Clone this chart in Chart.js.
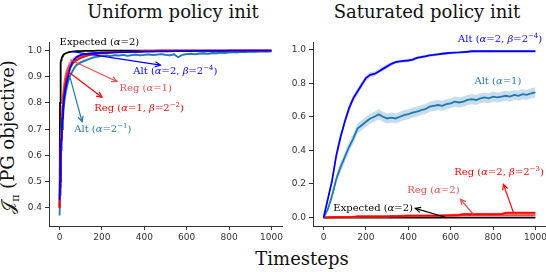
<!DOCTYPE html>
<html>
<head>
<meta charset="utf-8">
<script src="https://cdn.jsdelivr.net/npm/chart.js@4.4.1/dist/chart.umd.min.js"></script>
<style>
  body { margin: 0; width: 546px; height: 272px; overflow: hidden; background: #fff; position: relative; font-family: 'DejaVu Serif', serif; }
  canvas { position: absolute; top: 0; }
  .lbl { position: absolute; font-size: 18px; line-height: 18px; color: #111; white-space: nowrap; transform: translateX(-50%); }
  #ylab { position: absolute; left: 12px; top: 137px; font-size: 18px; line-height: 18px; color: #111; white-space: nowrap; transform: translate(-50%, -50%) rotate(-90deg); }
</style>
</head>
<body>
<div class="lbl" style="left:173px; top:3px;">Uniform policy init</div>
<div class="lbl" style="left:427px; top:3px;">Saturated policy init</div>
<div class="lbl" style="left:302px; top:250px;">Timesteps</div>
<div id="ylab">𝒥<sub style="font-size:11px">π</sub> (PG objective)</div>
<canvas id="left" width="300" height="272" style="left:0"></canvas>
<canvas id="right" width="290" height="272" style="left:270px"></canvas>
<script>
// ---- data ----
const X_TICKS = [0, 200, 400, 600, 800, 1000];
const Y_TICKS_LEFT = [0.4, 0.5, 0.6, 0.7, 0.8, 0.9, 1.0];
const Y_TICKS_RIGHT = [0.0, 0.2, 0.4, 0.6, 0.8, 1.0];

// uniform init panel
const T_LEFT = [0, 2, 4, 6, 8, 10, 13, 16, 20, 25, 30, 40, 50, 60, 70, 80, 100, 120, 140, 160, 180,
  200, 220, 240, 260, 280, 300, 320, 340, 360, 380, 400, 420, 440, 460, 480, 500, 520, 540, 560, 580,
  600, 620, 640, 660, 680, 700, 720, 740, 760, 780, 800, 820, 840, 860, 880, 900, 920, 940, 960, 980, 1000];
const EXP_L = [0.40, 0.80, 0.93, 0.955, 0.965, 0.972, 0.978, 0.982, 0.985, 0.988, 0.990, 0.993, 0.995, 0.996, 0.997, 0.998, 0.998, 0.999, 0.999, 0.999, 1.0,
  1.0, 1.0, 1.0, 1.0, 1.0, 1.0, 1.0, 1.0, 1.0, 1.0, 1.0, 1.0, 1.0, 1.0, 1.0, 1.0, 1.0, 1.0, 1.0, 1.0,
  1.0, 1.0, 1.0, 1.0, 1.0, 1.0, 1.0, 1.0, 1.0, 1.0, 1.0, 1.0, 1.0, 1.0, 1.0, 1.0, 1.0, 1.0, 1.0, 1.0, 1.0];
const ALT_B4_L = [0.43, 0.50, 0.58, 0.63, 0.66, 0.69, 0.74, 0.77, 0.81, 0.84, 0.865, 0.90, 0.935, 0.955, 0.968, 0.976, 0.984, 0.987, 0.989, 0.990, 0.991,
  0.992, 0.992, 0.993, 0.993, 0.994, 0.994, 0.994, 0.995, 0.995, 0.995, 0.996, 0.996, 0.996, 0.997, 0.997, 0.997, 0.997, 0.998, 0.998, 0.998,
  0.998, 0.998, 0.999, 0.999, 0.999, 0.999, 0.999, 0.999, 0.999, 0.999, 1.0, 1.0, 1.0, 1.0, 1.0, 1.0, 1.0, 1.0, 1.0, 1.0, 1.0];
const ALT_H_L = [0.37, 0.45, 0.52, 0.58, 0.62, 0.66, 0.70, 0.74, 0.78, 0.82, 0.845, 0.88, 0.905, 0.92, 0.935, 0.945, 0.955, 0.962, 0.968, 0.974, 0.977,
  0.980, 0.982, 0.979, 0.983, 0.981, 0.984, 0.980, 0.983, 0.985, 0.982, 0.984, 0.986, 0.983, 0.985, 0.987, 0.984, 0.982, 0.986, 0.975, 0.984,
  0.987, 0.988, 0.986, 0.989, 0.990, 0.988, 0.991, 0.990, 0.992, 0.991, 0.993, 0.994, 0.993, 0.995, 0.994, 0.996, 0.995, 0.996, 0.997, 0.996, 0.997];
const ALT_H_L_ERR = [0.01, 0.02, 0.02, 0.02, 0.02, 0.02, 0.02, 0.02, 0.015, 0.015, 0.012, 0.01, 0.01, 0.008, 0.008, 0.007, 0.006, 0.006, 0.005, 0.005, 0.005,
  0.004, 0.004, 0.004, 0.004, 0.004, 0.004, 0.004, 0.004, 0.004, 0.004, 0.004, 0.004, 0.004, 0.004, 0.004, 0.004, 0.004, 0.004, 0.004, 0.004,
  0.004, 0.004, 0.004, 0.004, 0.004, 0.004, 0.004, 0.004, 0.004, 0.004, 0.004, 0.004, 0.004, 0.004, 0.004, 0.004, 0.004, 0.004, 0.004, 0.004, 0.004];
const REG_A1_L = [0.40, 0.50, 0.58, 0.65, 0.70, 0.74, 0.79, 0.83, 0.86, 0.89, 0.91, 0.935, 0.95, 0.96, 0.965, 0.97, 0.978, 0.983, 0.987, 0.99, 0.991,
  0.992, 0.993, 0.993, 0.994, 0.994, 0.995, 0.995, 0.996, 0.996, 0.997, 0.998, 0.998, 0.999, 0.999, 1.0, 1.0, 1.0, 1.0, 1.0, 1.0,
  1.0, 1.0, 1.0, 1.0, 1.0, 1.0, 1.0, 1.0, 1.0, 1.0, 1.0, 1.0, 1.0, 1.0, 1.0, 1.0, 1.0, 1.0, 1.0, 1.0, 1.0];
const REG_A1_L_ERR = [0.01, 0.03, 0.03, 0.03, 0.03, 0.03, 0.03, 0.025, 0.025, 0.02, 0.02, 0.018, 0.015, 0.013, 0.012, 0.01, 0.008, 0.006, 0.005, 0.004, 0.004,
  0.003, 0.003, 0.003, 0.003, 0.003, 0.003, 0.003, 0.003, 0.003, 0.003, 0.002, 0.002, 0.002, 0.002, 0.002, 0.002, 0.002, 0.002, 0.002, 0.002,
  0.001, 0.001, 0.001, 0.001, 0.001, 0.001, 0.001, 0.001, 0.001, 0.001, 0.001, 0.001, 0.001, 0.001, 0.001, 0.001, 0.001, 0.001, 0.001, 0.001, 0.001];
const REG_B2_L = [0.40, 0.48, 0.55, 0.61, 0.66, 0.70, 0.75, 0.79, 0.83, 0.86, 0.885, 0.915, 0.935, 0.948, 0.957, 0.963, 0.972, 0.978, 0.983, 0.986, 0.988,
  0.990, 0.991, 0.992, 0.993, 0.993, 0.994, 0.995, 0.995, 0.996, 0.996, 0.997, 0.998, 0.999, 1.0, 1.0, 1.0, 1.0, 1.0, 1.0, 1.0,
  1.0, 1.0, 1.0, 1.0, 1.0, 1.0, 1.0, 1.0, 1.0, 1.0, 1.0, 1.0, 1.0, 1.0, 1.0, 1.0, 1.0, 1.0, 1.0, 1.0, 1.0];

// saturated init panel
const T_RIGHT = [0, 20, 40, 60, 80, 100, 120, 140, 160, 180, 200, 220, 240, 260, 280, 300, 320, 340, 360, 380, 400,
  420, 440, 460, 480, 500, 520, 540, 560, 580, 600, 620, 640, 660, 680, 700, 720, 740, 760, 780, 800,
  820, 840, 860, 880, 900, 920, 940, 960, 980, 1000];
const ALT_B4_R = [0, 0.11, 0.22, 0.37, 0.48, 0.57, 0.65, 0.71, 0.75, 0.79, 0.83, 0.85, 0.855, 0.87, 0.885, 0.90, 0.915, 0.925, 0.93, 0.933, 0.935,
  0.94, 0.95, 0.955, 0.96, 0.965, 0.968, 0.972, 0.975, 0.978, 0.98, 0.982, 0.983, 0.985, 0.987, 0.99, 0.99, 0.99, 0.99, 0.99, 0.99,
  0.99, 0.99, 0.99, 0.99, 0.99, 0.99, 0.99, 0.99, 0.99, 0.99];
const ALT_B4_R_ERR = [0, 0.01, 0.015, 0.02, 0.02, 0.02, 0.02, 0.02, 0.02, 0.018, 0.016, 0.015, 0.014, 0.013, 0.012, 0.012, 0.011, 0.01, 0.01, 0.01, 0.01,
  0.009, 0.009, 0.009, 0.009, 0.009, 0.008, 0.008, 0.008, 0.008, 0.008, 0.007, 0.007, 0.007, 0.007, 0.007, 0.006, 0.006, 0.006, 0.006, 0.006,
  0.005, 0.005, 0.005, 0.005, 0.005, 0.005, 0.005, 0.005, 0.005, 0.005];
const ALT_1_R = [0.0, 0.05, 0.13, 0.23, 0.30, 0.36, 0.42, 0.47, 0.53, 0.55, 0.57, 0.59, 0.60, 0.615, 0.60, 0.59, 0.595, 0.59, 0.60, 0.61, 0.615,
  0.625, 0.63, 0.64, 0.645, 0.66, 0.665, 0.67, 0.665, 0.675, 0.68, 0.69, 0.685, 0.69, 0.70, 0.705, 0.70, 0.71, 0.715, 0.71, 0.72,
  0.715, 0.72, 0.725, 0.72, 0.73, 0.725, 0.735, 0.73, 0.74, 0.745];
const ALT_1_R_ERR = [0, 0.01, 0.02, 0.025, 0.03, 0.03, 0.03, 0.03, 0.03, 0.03, 0.03, 0.03, 0.03, 0.03, 0.03, 0.03, 0.03, 0.03, 0.03, 0.03, 0.03,
  0.03, 0.03, 0.03, 0.03, 0.03, 0.03, 0.03, 0.03, 0.03, 0.03, 0.03, 0.03, 0.03, 0.03, 0.03, 0.03, 0.03, 0.03, 0.03, 0.03,
  0.03, 0.03, 0.03, 0.03, 0.03, 0.03, 0.03, 0.03, 0.03, 0.03];
const REG_A2_R = [0, 0.001, 0.002, 0.002, 0.002, 0.002, 0.002, 0.003, 0.005, 0.006, 0.006, 0.006, 0.006, 0.006, 0.006, 0.006, 0.007, 0.007, 0.007, 0.008, 0.01,
  0.01, 0.01, 0.01, 0.01, 0.01, 0.01, 0.01, 0.01, 0.01, 0.01, 0.011, 0.012, 0.013, 0.013, 0.013, 0.013, 0.013, 0.013, 0.013, 0.013,
  0.014, 0.014, 0.014, 0.014, 0.014, 0.014, 0.014, 0.014, 0.014, 0.014];
const REG_A2_R_ERR = [0, 0.003, 0.004, 0.004, 0.004, 0.004, 0.004, 0.004, 0.004, 0.004, 0.004, 0.004, 0.004, 0.004, 0.004, 0.004, 0.004, 0.004, 0.004, 0.004, 0.004,
  0.004, 0.004, 0.004, 0.004, 0.004, 0.004, 0.004, 0.004, 0.004, 0.004, 0.004, 0.004, 0.004, 0.004, 0.004, 0.004, 0.004, 0.004, 0.004, 0.004,
  0.004, 0.004, 0.004, 0.004, 0.004, 0.004, 0.004, 0.004, 0.004, 0.004];
const REG_B3_R = [0, 0.001, 0.002, 0.003, 0.003, 0.003, 0.003, 0.004, 0.007, 0.007, 0.007, 0.007, 0.007, 0.007, 0.007, 0.007, 0.008, 0.008, 0.009, 0.01, 0.012,
  0.012, 0.012, 0.012, 0.012, 0.012, 0.012, 0.012, 0.013, 0.013, 0.014, 0.015, 0.016, 0.02, 0.02, 0.02, 0.02, 0.02, 0.02, 0.02, 0.02,
  0.02, 0.021, 0.028, 0.028, 0.028, 0.028, 0.028, 0.028, 0.028, 0.028];
const REG_B3_R_ERR = [0, 0.004, 0.005, 0.006, 0.006, 0.006, 0.006, 0.006, 0.007, 0.007, 0.007, 0.007, 0.007, 0.007, 0.007, 0.007, 0.008, 0.008, 0.008, 0.008, 0.008,
  0.008, 0.008, 0.008, 0.008, 0.008, 0.008, 0.008, 0.008, 0.008, 0.008, 0.009, 0.009, 0.009, 0.009, 0.009, 0.009, 0.009, 0.009, 0.009, 0.009,
  0.01, 0.01, 0.01, 0.01, 0.01, 0.01, 0.01, 0.01, 0.01, 0.01];
const EXP_R = [0, 0, 0, 0, 0, 0, 0, 0, 0, 0, 0, 0, 0, 0, 0, 0, 0, 0, 0, 0, 0,
  0, 0, 0, 0, 0, 0, 0, 0, 0, 0, 0, 0, 0, 0, 0, 0, 0, 0, 0, 0,
  0, 0, 0, 0, 0, 0, 0, 0, 0, 0];

// ---- colours ----
const BLACK = '#000000';
const BLUE = '#0000ff';
const STEEL = '#1f77b4';
const LRED = '#ee4a4a';
const RED = '#ff0000';

const LEFT_NOTES = [
  { text: 'Expected (*α*=2)', color: BLACK, at: [0, 1.03] },
  { text: 'Alt (*α*=2, *β*=2^−4^)', color: BLUE, at: [348, 0.919], arrow: [60, 0.996, 476, 0.945] },
  { text: 'Reg (*α*=1)', color: LRED, at: [283, 0.854], arrow: [50, 0.965, 271, 0.882] },
  { text: 'Reg (*α*=1, *β*=2^−2^)', color: RED, at: [164, 0.778], arrow: [41, 0.919, 200, 0.822] },
  { text: 'Alt (*α*=2^−1^)', color: STEEL, at: [69, 0.698], arrow: [50, 0.896, 106, 0.729] }
];
const RIGHT_NOTES = [
  { text: 'Alt (*α*=2, *β*=2^−4^)', color: BLUE, at: [635, 1.058] },
  { text: 'Alt (*α*=1)', color: STEEL, at: [712, 0.812] },
  { text: 'Reg (*α*=2, *β*=2^−3^)', color: RED, at: [617, 0.269], arrow: [896, 0.031, 849, 0.198] },
  { text: 'Reg (*α*=2)', color: LRED, at: [395, 0.164], arrow: [707, 0.02, 646, 0.109] },
  { text: 'Expected (*α*=2)', color: BLACK, at: [46, 0.055], arrow: [575, 0.002, 433, 0.055] }
];

// ---- helpers ----
function pts(xs, ys) {
  return xs.map((x, i) => ({ x: x, y: ys[i] }));
}
function line(xs, ys, color, order) {
  return { data: pts(xs, ys), borderColor: color, borderWidth: 1.8, pointRadius: 0, fill: false, order: order };
}
// lower edge then upper edge, the upper one fills down to the lower one
function band(xs, ys, err, fillColor, order) {
  const lo = ys.map((v, i) => v - err[i]);
  const hi = ys.map((v, i) => v + err[i]);
  return [
    { data: pts(xs, lo), borderWidth: 0, pointRadius: 0, fill: false, order: order },
    { data: pts(xs, hi), borderWidth: 0, pointRadius: 0, fill: '-1', backgroundColor: fillColor, order: order }
  ];
}

function drawRich(ctx, str, x, y, color, size) {
  const parts = str.split(/(\*[^*]+\*|\^[^^]+\^)/).filter(s => s);
  ctx.fillStyle = color;
  ctx.textBaseline = 'middle';
  ctx.textAlign = 'left';
  let cx = x;
  for (const p of parts) {
    let txt = p, font = size + 'px "DejaVu Serif"', dy = 0;
    if (p[0] === '*') { txt = p.slice(1, -1); font = 'italic ' + font; }
    else if (p[0] === '^') { txt = p.slice(1, -1); font = (size * 0.7) + 'px "DejaVu Serif"'; dy = -size * 0.35; }
    ctx.font = font;
    ctx.fillText(txt, cx, y + dy);
    cx += ctx.measureText(txt).width;
  }
}

function drawArrow(ctx, x1, y1, x2, y2, color) {
  ctx.strokeStyle = color;
  ctx.lineWidth = 1.2;
  ctx.beginPath(); ctx.moveTo(x1, y1); ctx.lineTo(x2, y2); ctx.stroke();
  const a = Math.atan2(y2 - y1, x2 - x1), L = 6, w = 0.45;
  ctx.beginPath();
  ctx.moveTo(x2 - L * Math.cos(a - w), y2 - L * Math.sin(a - w));
  ctx.lineTo(x2, y2);
  ctx.lineTo(x2 - L * Math.cos(a + w), y2 - L * Math.sin(a + w));
  ctx.stroke();
}

const notesPlugin = {
  id: 'notes',
  afterDatasetsDraw(chart, args, opts) {
    const ctx = chart.ctx, sx = chart.scales.x, sy = chart.scales.y;
    ctx.save();
    for (const n of opts.items) {
      if (n.arrow) {
        drawArrow(ctx, sx.getPixelForValue(n.arrow[0]), sy.getPixelForValue(n.arrow[1]),
          sx.getPixelForValue(n.arrow[2]), sy.getPixelForValue(n.arrow[3]), n.color);
      }
      drawRich(ctx, n.text, sx.getPixelForValue(n.at[0]), sy.getPixelForValue(n.at[1]), n.color, 10);
    }
    ctx.restore();
  }
};

const tickFont = { family: 'DejaVu Sans', size: 9 };

function makeChart(id, datasets, yMin, yMax, yTicks, yWidth, padRight, notes) {
  return new Chart(document.getElementById(id), {
    type: 'line',
    data: { datasets: datasets },
    options: {
      responsive: false,
      animation: false,
      layout: { padding: { top: 42, right: padRight, bottom: 26, left: 0 } },
      plugins: { legend: { display: false }, tooltip: { enabled: false }, notes: { items: notes } },
      scales: {
        x: {
          type: 'linear', min: -50, max: 1050,
          afterBuildTicks: s => { s.ticks = X_TICKS.map(v => ({ value: v })); },
          afterFit: s => { s.height = 20; },
          grid: { drawOnChartArea: false, tickLength: 4, color: '#333' },
          border: { color: '#333' },
          ticks: { color: '#333', font: tickFont, padding: 2, maxRotation: 0, autoSkip: false, callback: v => String(v) }
        },
        y: {
          type: 'linear', min: yMin, max: yMax,
          afterBuildTicks: s => { s.ticks = yTicks.map(v => ({ value: v })); },
          afterFit: s => { s.width = yWidth; },
          grid: { drawOnChartArea: false, tickLength: 4, color: '#333' },
          border: { color: '#333' },
          ticks: { color: '#333', font: tickFont, padding: 3, autoSkip: false, callback: v => v.toFixed(1) }
        }
      }
    },
    plugins: [notesPlugin]
  });
}

makeChart('left', [
  line(T_LEFT, EXP_L, BLACK, 6),
  ...band(T_LEFT, ALT_H_L, ALT_H_L_ERR, 'rgba(31,119,180,0.25)', 5),
  line(T_LEFT, ALT_H_L, STEEL, 4),
  ...band(T_LEFT, REG_A1_L, REG_A1_L_ERR, 'rgba(240,90,90,0.35)', 3),
  line(T_LEFT, REG_A1_L, LRED, 3),
  line(T_LEFT, REG_B2_L, RED, 2),
  line(T_LEFT, ALT_B4_L, BLUE, 1)
], 0.33, 1.033, Y_TICKS_LEFT, 49, 18, LEFT_NOTES);

makeChart('right', [
  line(T_RIGHT, EXP_R, BLACK, 9),
  ...band(T_RIGHT, REG_A2_R, REG_A2_R_ERR, 'rgba(240,90,90,0.35)', 8),
  line(T_RIGHT, REG_A2_R, LRED, 7),
  ...band(T_RIGHT, REG_B3_R, REG_B3_R_ERR, 'rgba(255,60,60,0.35)', 6),
  line(T_RIGHT, REG_B3_R, RED, 5),
  ...band(T_RIGHT, ALT_1_R, ALT_1_R_ERR, 'rgba(31,119,180,0.25)', 4),
  line(T_RIGHT, ALT_1_R, STEEL, 3),
  ...band(T_RIGHT, ALT_B4_R, ALT_B4_R_ERR, 'rgba(60,60,255,0.25)', 2),
  line(T_RIGHT, ALT_B4_R, BLUE, 1)
], -0.05, 1.045, Y_TICKS_RIGHT, 43, 14, RIGHT_NOTES);
</script>
</body>
</html>
